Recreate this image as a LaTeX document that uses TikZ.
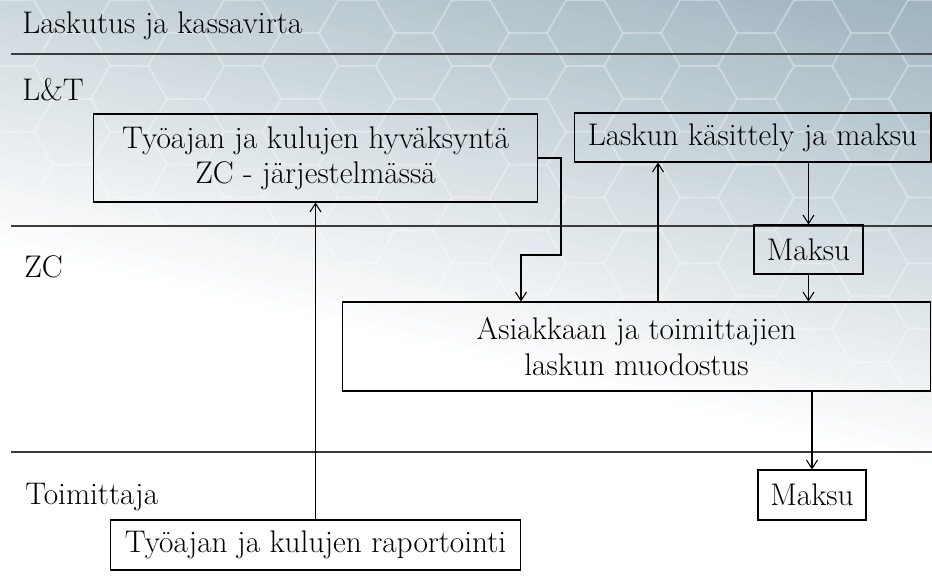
\documentclass[tikz,border=0pt]{standalone}
\usepackage{fontspec}
\usetikzlibrary{arrows.meta,positioning}

\definecolor{bgblue}{HTML}{9FB4BE}
\definecolor{lanegray}{HTML}{3C3C3C}

\tikzset{
  box/.style={draw=black, line width=0.6pt, inner sep=0pt, align=center,
    font=\fontsize{17.8}{20}\selectfont},
  lanetext/.style={anchor=base west, inner sep=0pt, font=\fontsize{17.8}{20}\selectfont},
  lane/.style={draw=lanegray, line width=1.1pt},
  flow/.style={->, line width=0.6pt},
}

\begin{document}
\begin{tikzpicture}[x=0.02cm,y=-0.02cm,>={Straight Barb[length=1.7mm,width=2.2mm]}]
  \useasboundingbox (0,0) rectangle (932,579);
  % background with honeycomb
  \begin{scope}
    \clip (0,0) rectangle (932,579);
    \fill[white] (0,0) rectangle (932,579);
    \foreach \t in {-228,-220,...,244}{
      \pgfmathsetmacro\p{min(100,(244-\t)/4.64)}
      \fill[bgblue!\p!white] (0,\t) -- (932,\t+220) -- (932,\t+229) -- (0,\t+9) -- cycle;
    }
    \foreach \i in {0,...,17}
      \foreach \j in {-1,...,9}
        \draw[white, opacity=0.18, line width=1.1pt,
          shift={({15+57*\i},{33+65.8*(\j+0.5*mod(\i,2))})}]
          (0:38) -- (60:38) -- (120:38) -- (180:38) -- (240:38) -- (300:38) -- cycle;
  \end{scope}

  % lanes
  \draw[lane] (11,54) -- (932,54);
  \draw[lane] (11,226) -- (932,226);
  \draw[lane] (11,452) -- (932,452);
  \node[lanetext] (title) at (22,33) {Laskutus ja kassavirta};
  \node[lanetext] (lt) at (22,100) {L\&T};
  \node[lanetext] (zc) at (24,277) {ZC};
  \node[lanetext] (toim) at (25,504) {Toimittaja};

  % steps
  \node[box, minimum width=8.9cm, minimum height=1.76cm] (hyvaks) at (315.5,158)
    {Työajan ja kulujen hyväksyntä\\ZC - järjestelmässä};
  \node[box, minimum width=7.14cm, minimum height=0.98cm] (kasittely) at (752.5,137.5)
    {Laskun käsittely ja maksu};
  \node[box, minimum width=2.18cm, minimum height=0.98cm] (maksuzc) at (808.5,249.5) {Maksu};
  \node[box, minimum width=11.78cm, minimum height=1.78cm] (muodostus) at (636.5,346.5)
    {Asiakkaan ja toimittajien\\laskun muodostus};
  \node[box, minimum width=2.16cm, minimum height=1cm] (maksut) at (812,495) {Maksu};
  \node[box, fill=white, minimum width=8.22cm, minimum height=1cm] (raport) at (315.5,545)
    {Työajan ja kulujen raportointi};

  % flows
  \coordinate (upx) at (658,0);
  \coordinate (stepa) at (561,255);
  \coordinate (stepb) at (521,255);
  \draw[flow] (raport.north) -- (raport.north |- hyvaks.south);
  \draw[flow] (hyvaks.east) -| (stepa) -- (stepb) -- (stepb |- muodostus.north);
  \draw[flow] (upx |- muodostus.north) -- (upx |- kasittely.south);
  \draw[flow] (kasittely.south -| maksuzc.north) -- (maksuzc.north);
  \draw[flow] (maksuzc.south) -- (maksuzc.south |- muodostus.north);
  \draw[flow] (muodostus.south -| maksut.north) -- (maksut.north);
\end{tikzpicture}
\end{document}
